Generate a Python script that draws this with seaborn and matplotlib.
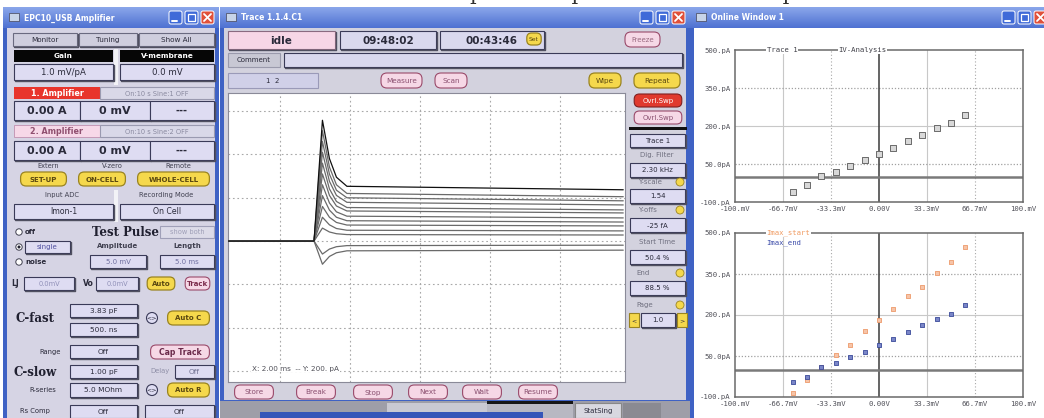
import numpy as np
import pandas as pd
import matplotlib
matplotlib.use('Agg')
import matplotlib.pyplot as plt
import matplotlib.colors as mcolors
import seaborn as sns
from matplotlib.patches import Rectangle, FancyBboxPatch, Circle

# ---------------- data ----------------
voltages_mv = [-60, -50, -40, -30, -20, -10, 0, 10, 20, 30, 40, 50, 60]
iv_trace1_pa = [-60, -31, 1, 17, 42, 66, 90, 115, 139, 163, 192, 212, 244]
imax_start_pa = [-85, -36, 9, 54, 91, 140, 181, 221, 270, 304, 353, 395, 447]
imax_end_pa = [-44, -25, 9, 24, 46, 65, 91, 114, 136, 162, 185, 204, 237]

# oscilloscope sweeps: sample times (ms) and current at each time (pA)
trace_time_ms = [-1.5, 0.96, 1.2, 1.4, 1.6, 1.9, 9.8]
trace_hold_pa = [0, 0, 0, 0, 0, 0, 0, 0, 0, 0, 0, 0, 0]
trace_peak_pa = [-107, -60, 60, 110, 160, 210, 260, 310, 360, 410, 460, 510, 558]
trace_1p4_pa = [-71, -37, 42, 75, 110, 143, 176, 211, 241, 276, 309, 342, 381]
trace_1p6_pa = [-54, -26, 34, 58, 86, 110, 135, 162, 183, 211, 235, 260, 295]
trace_1p9_pa = [-45, -21, 30, 50, 74, 94, 115, 139, 155, 179, 200, 220, 253]
trace_steady_pa = [-42, -19, 28, 47, 70, 88, 107, 130, 144, 167, 186, 205, 237]

iv_xticks = [-100, -66.7, -33.3, 0, 33.3, 66.7, 100]
iv_xticklabels = ['-100.mV', '-66.7mV', '-33.3mV', '0.00V', '33.3mV', '66.7mV', '100.mV']
iv_yticks = [-100, 50, 200, 350, 500]
iv_yticklabels = ['-100.pA', '50.0pA', '200.pA', '350.pA', '500.pA']

# ---------------- figure / canvas ----------------
sns.set_theme(style='white')
plt.rcParams['font.family'] = ['DejaVu Sans']

W, H = 1044, 418
fig = plt.figure(figsize=(W / 100, H / 100), dpi=100, facecolor='white')
canvas = fig.add_axes([0, 0, 1, 1])
canvas.axis('off')


def px_axes(x0, y0, x1, y1):
    return fig.add_axes([x0 / W, 1 - y1 / H, (x1 - x0) / W, (y1 - y0) / H])


def rect(x, y, w, h, fc, ec='none', lw=0.8, z=1):
    canvas.add_patch(Rectangle((x, y), w, h, fc=fc, ec=ec, lw=lw, zorder=z))


def gradient(x, y, w, h, top, bot, z=2):
    c0 = np.array(mcolors.to_rgb(top))
    c1 = np.array(mcolors.to_rgb(bot))
    f = np.linspace(0, 1, 24)[:, None, None]
    img = c0 * (1 - f) + c1 * f
    canvas.imshow(img, extent=(x, x + w, y + h, y), aspect='auto', zorder=z,
                  interpolation='bilinear')


def txt(x, y, s, fs=5.2, color='#2a2a3a', ha='center', weight='normal', family=None, z=5, **kw):
    d = dict(ha=ha, va='center', fontsize=fs, color=color, weight=weight, zorder=z)
    if family:
        d['family'] = family
    d.update(kw)
    canvas.text(x, y, s, **d)


def button(x, y, w, h, s, fc='#dedcf2', ec='#3a3a58', tc='#2a2a3a', fs=5.2, weight='normal',
           rounded=False, lw=0.8, shadow=True):
    if rounded:
        r = h / 2.5
        canvas.add_patch(FancyBboxPatch((x + r, y), w - 2 * r, h,
                                        boxstyle=f'round,pad=0,rounding_size={r}',
                                        fc=fc, ec=ec, lw=lw, zorder=3))
    else:
        canvas.add_patch(Rectangle((x, y), w, h, fc=fc, ec=ec, lw=lw, zorder=3))
        if shadow:
            canvas.plot([x + 1, x + w + 1, x + w + 1], [y + h + 1, y + h + 1, y + 1],
                        color='#505060', lw=1.0, zorder=3)
    if s:
        txt(x + w / 2, y + h / 2 + 0.5, s, fs=fs, color=tc, weight=weight, z=4)


def window(x0, y0, x1, y1, title, body_fc):
    rect(x0, y0, x1 - x0, y1 - y0, '#3f62c4', z=1)
    gradient(x0, y0, x1 - x0, 21, '#8aa6ea', '#4f72d2', z=2)
    rect(x0 + 4, y0 + 21, x1 - x0 - 8, y1 - y0 - 24, body_fc, z=1.5)
    rect(x0 + 6, y0 + 6, 10, 8, '#c8d4e8', ec='#445', lw=0.5, z=3)
    txt(x0 + 21, y0 + 11, title, fs=5.5, color='white', ha='left', weight='bold', z=4)
    bx = x1 - 50
    for k, fc in enumerate(['#3f6ad8', '#3f6ad8', '#e0503a']):
        canvas.add_patch(FancyBboxPatch((bx + k * 16, y0 + 4), 13, 13,
                                        boxstyle='round,pad=0,rounding_size=2',
                                        fc=fc, ec='white', lw=0.7, zorder=4))
    canvas.plot([bx + 3, bx + 8], [y0 + 14, y0 + 14], color='white', lw=1.4, zorder=5)
    rect(bx + 16 + 3, y0 + 7, 7, 7, 'none', ec='white', lw=0.9, z=5)
    canvas.plot([bx + 35, bx + 42], [y0 + 7, y0 + 14], color='white', lw=1.3, zorder=5)
    canvas.plot([bx + 35, bx + 42], [y0 + 14, y0 + 7], color='white', lw=1.3, zorder=5)


# text of the page above the screenshot: only the descenders show
canvas.text(470, 0.0, 'potential protocol and the sequence', family='DejaVu Serif',
            fontsize=15, va='baseline', ha='left', color='#303030', zorder=0.5)

# ---------------- windows ----------------
window(3, 7, 219, 430, 'EPC10_USB Amplifier', '#d6d4e4')
window(220, 7, 690, 403, 'Trace 1.1.4.C1', '#d3d2de')
window(690, 7, 1052, 430, 'Online Window 1', 'white')

# taskbar strip below middle window
rect(220, 401, 470, 17, '#9e9ea8', z=1.2)
rect(387, 403, 100, 15, '#c9c9d2', z=1.3)
rect(487, 401, 86, 17, '#b8b8c2', z=1.3)
rect(487, 401, 86, 3, '#151515', z=1.4)
button(575, 403, 46, 15, 'StatSing', fc='#d8d8e0', ec='#888', fs=5, shadow=False)
rect(623, 403, 38, 15, '#8a8a92', z=1.4)
rect(260, 412, 283, 7, '#3555b8', z=1.5)

# ---------------- left amplifier panel ----------------
button(13, 33, 64, 13, 'Monitor', fc='#cfcede', ec='#6a6a80', fs=5.2)
button(79, 33, 58, 13, 'Tuning', fc='#cfcede', ec='#6a6a80', fs=5.2)
button(139, 33, 75, 13, 'Show All', fc='#cfcede', ec='#6a6a80', fs=5.2)
rect(114, 49, 4, 36, '#f2f2f6', z=2)
rect(14, 50, 99, 12, '#060606', z=3)
txt(63, 56, 'Gain', fs=5.3, color='white', weight='bold')
rect(120, 50, 94, 12, '#060606', z=3)
txt(167, 56, 'V-membrane', fs=5.3, color='white', weight='bold')
button(14, 64, 99, 16, '1.0 mV/pA', fs=6.2)
button(120, 64, 94, 16, '0.0 mV', fs=6.2)

rect(14, 87, 86, 12, '#e8352c', z=3)
txt(57, 93, '1. Amplifier', fs=5.8, color='white', weight='bold')
button(100, 87, 114, 12, 'On:10 s Sine:1 OFF', fc='#d9d8e8', ec='#9a9ab0', tc='#8a8aa0', fs=4.8, shadow=False)
button(14, 101, 66, 19, '0.00 A', fs=8, weight='bold')
button(80, 101, 70, 19, '0 mV', fs=8, weight='bold')
button(150, 101, 64, 19, '---', fs=7, weight='bold')

rect(14, 125, 86, 12, '#f7d8e8', ec='#c090b0', lw=0.6, z=3)
txt(57, 131, '2. Amplifier', fs=5.8, color='#905070', weight='bold')
button(100, 125, 114, 12, 'On:10 s Sine:2 OFF', fc='#d9d8e8', ec='#9a9ab0', tc='#8a8aa0', fs=4.8, shadow=False)
button(14, 141, 66, 19, '0.00 A', fs=8, weight='bold')
button(80, 141, 70, 19, '0 mV', fs=8, weight='bold')
button(150, 141, 64, 19, '---', fs=7, weight='bold')

txt(48, 166, 'Extern', fs=4.8, color='#404050')
txt(112, 166, 'V-zero', fs=4.8, color='#404050')
txt(178, 166, 'Remote', fs=4.8, color='#404050')
yel = dict(fc='#f5d84c', ec='#9a8420', tc='#5a4810', rounded=True, lw=0.9)
button(15, 172, 57, 14, 'SET-UP', fs=5, weight='bold', **yel)
button(73, 172, 58, 14, 'ON-CELL', fs=5, weight='bold', **yel)
button(132, 172, 83, 14, 'WHOLE-CELL', fs=5, weight='bold', **yel)

txt(62, 195, 'Input ADC', fs=4.9, color='#404050')
txt(166, 195, 'Recording Mode', fs=4.9, color='#404050')
rect(114, 190, 4, 32, '#f2f2f6', z=2)
button(14, 204, 99, 15, 'Imon-1', fs=5.6)
button(120, 204, 94, 15, 'On Cell', fs=5.6)

for yy, lab in [(232, 'off'), (247, ''), (262, 'noise')]:
    canvas.add_patch(Circle((19, yy), 3.2, fc='white', ec='#404050', lw=0.7, zorder=3))
    if lab:
        txt(25, yy, lab, fs=5, ha='left', weight='bold')
canvas.add_patch(Circle((19, 247), 1.5, fc='#202030', ec='none', zorder=4))
button(25, 241, 45, 12, 'single', fs=5, tc='#5050a0')
txt(125, 232, 'Test Pulse', fs=8.5, weight='bold', family='DejaVu Serif', color='#202030')
button(160, 226, 54, 12, 'show both', fc='#dcdbe8', ec='#a0a0b8', tc='#a0a0b8', fs=4.8, shadow=False)
txt(118, 246, 'Amplitude', fs=5, weight='bold', color='#404050')
txt(187, 246, 'Length', fs=5, weight='bold', color='#404050')
button(90, 255, 56, 13, '5.0 mV', fs=5, tc='#7070a0')
button(160, 255, 54, 13, '5.0 ms', fs=5, tc='#7070a0')

txt(15, 284, 'LJ', fs=5.5, weight='bold')
button(24, 277, 50, 13, '0.0mV', fs=4.8, tc='#9090b8')
txt(88, 284, 'Vo', fs=5.5, weight='bold')
button(96, 277, 42, 13, '0.0mV', fs=4.8, tc='#9090b8')
button(142, 277, 38, 13, 'Auto', fs=5, weight='bold', **yel)
button(180, 277, 35, 13, 'Track', fc='#f6d8e6', ec='#9a4a6a', tc='#7a2a4a', rounded=True,
       fs=5, weight='bold')

txt(35, 318, 'C-fast', fs=8.5, weight='bold', family='DejaVu Serif', color='#202030')
button(70, 304, 67, 13, '3.83 pF', fs=5.3)
button(70, 323, 67, 13, '500. ns', fs=5.3)
canvas.add_patch(Circle((152, 318), 5.5, fc='#dedcf2', ec='#3a3a58', lw=0.8, zorder=3))
txt(152, 318, '<>', fs=4.5)
button(162, 311, 53, 14, 'Auto C', fs=5, weight='bold', **yel)

txt(50, 352, 'Range', fs=4.9)
button(70, 345, 67, 13, 'Off', fs=5.3)
button(145, 345, 70, 14, 'Cap Track', fc='#f6d8e6', ec='#9a4a6a', tc='#6a2a4a', rounded=True,
       fs=5.6, weight='bold')
txt(35, 372, 'C-slow', fs=8.5, weight='bold', family='DejaVu Serif', color='#202030')
button(70, 365, 67, 13, '1.00 pF', fs=5.3)
txt(160, 371, 'Delay', fs=4.9, color='#9090a8')
button(175, 365, 39, 13, 'Off', fs=5.3, tc='#707090')
txt(43, 390, 'R-series', fs=4.9)
button(70, 383, 67, 14, '5.0 MOhm', fs=5.3)
canvas.add_patch(Circle((152, 390), 5.5, fc='#dedcf2', ec='#3a3a58', lw=0.8, zorder=3))
txt(152, 390, '<>', fs=4.5)
button(162, 383, 53, 14, 'Auto R', fs=5, weight='bold', **yel)
txt(35, 411, 'Rs Comp', fs=4.9)
button(70, 405, 67, 13, 'Off', fs=5.3)
button(145, 405, 69, 13, 'Off', fs=5.3)

# ---------------- middle window controls ----------------
button(228, 31, 107, 18, 'idle', fc='#f7d6e6', ec='#8a6a80', fs=7.5, weight='bold')
button(340, 31, 96, 18, '09:48:02', fc='#d9d8ee', fs=7.5, weight='bold')
button(440, 31, 104, 18, '00:43:46', fc='#d9d8ee', fs=7.5, weight='bold')
button(522, 33, 24, 12, 'Set', fs=4.3, **yel)
button(619, 32, 47, 15, 'Freeze', fc='#f6d8e6', ec='#9a4a6a', tc='#9a6a80', rounded=True, fs=5)
button(228, 53, 52, 14, 'Comment', fc='#c8c8d4', ec='#9a9aac', fs=5, shadow=False)
button(284, 53, 398, 14, '', fc='#d9d8ee', ec='#3a3a58')
button(228, 73, 90, 15, '1  2', fc='#d0d0e8', ec='#9a9ab8', fs=5, shadow=False)
pink = dict(fc='#f6d8e6', ec='#9a4a6a', tc='#8a5070', rounded=True)
button(375, 73, 53, 15, 'Measure', fs=5.2, **pink)
button(429, 73, 44, 15, 'Scan', fs=5.2, **pink)
button(583, 73, 44, 15, 'Wipe', fs=5.2, **yel)
button(628, 73, 58, 15, 'Repeat', fs=5.2, **yel)

# right control column
button(629, 94, 58, 13, 'Ovrl.Swp', fc='#e03a2e', ec='#802020', tc='white', rounded=True, fs=5)
button(629, 111, 58, 13, 'Ovrl.Swp', fs=5, **pink)
rect(629, 127, 58, 2.5, '#101010', z=3)
button(630, 134, 55, 13, 'Trace 1', fs=5)
txt(657, 155, 'Dig. Filter', fs=5, color='#707080')
button(630, 163, 55, 14, '2.30 kHz', fs=5)
txt(650, 182, 'Y-scale', fs=5, color='#707080')
canvas.add_patch(Circle((680, 182), 4, fc='#f5d84c', ec='#9a8420', lw=0.6, zorder=3))
button(630, 189, 55, 14, '1.54', fs=5)
txt(648, 210, 'Y-offs', fs=5, color='#707080')
canvas.add_patch(Circle((680, 210), 4, fc='#f5d84c', ec='#9a8420', lw=0.6, zorder=3))
button(630, 218, 55, 14, '-25 fA', fs=5)
txt(657, 242, 'Start Time', fs=5, color='#707080')
button(630, 250, 55, 14, '50.4 %', fs=5)
txt(643, 273, 'End', fs=5, color='#707080')
canvas.add_patch(Circle((680, 273), 4, fc='#f5d84c', ec='#9a8420', lw=0.6, zorder=3))
button(630, 281, 55, 14, '88.5 %', fs=5)
txt(645, 305, 'Page', fs=5, color='#707080')
canvas.add_patch(Circle((680, 305), 4, fc='#f5d84c', ec='#9a8420', lw=0.6, zorder=3))
button(629, 313, 10, 14, '<', fc='#f5d84c', ec='#9a8420', fs=4.5, shadow=False)
button(641, 313, 34, 14, '1.0', fs=5)
button(677, 313, 10, 14, '>', fc='#f5d84c', ec='#9a8420', fs=4.5, shadow=False)

for xb, lab in [(229, 'Store'), (291, 'Break'), (348, 'Stop'), (403, 'Next'), (457, 'Wait'), (513, 'Resume')]:
    button(xb, 385, 50, 14, lab, fs=5.2, **pink)

# ---------------- oscilloscope plot ----------------
ax = px_axes(228, 93, 625, 382)
ax.set_facecolor('white')
rows = []
for i, v in enumerate(voltages_mv):
    vals = [trace_hold_pa[i], trace_hold_pa[i], trace_peak_pa[i], trace_1p4_pa[i],
            trace_1p6_pa[i], trace_1p9_pa[i], trace_steady_pa[i]]
    for t, y in zip(trace_time_ms, vals):
        rows.append({'t': t, 'i': y, 'sweep': v})
df = pd.DataFrame(rows)
palette = {v: ('#101010' if v == voltages_mv[-1] else '#6a6a6a') for v in voltages_mv}
sns.lineplot(data=df, x='t', y='i', hue='sweep', units='sweep', estimator=None,
             palette=palette, legend=False, linewidth=0.9, ax=ax, zorder=3)
ax.set_xlim(-1.5, 9.85)
ax.set_ylim(-651, 684)
for gx in [0, 2, 4, 6, 8]:
    ax.axvline(gx, color='#a8a8a8', lw=0.8, ls=(0, (1.5, 2.5)), zorder=1)
for gy in [-600, -400, -200, 0, 200, 400, 600]:
    ax.axhline(gy, color='#a8a8a8', lw=0.8, ls=(0, (1.5, 2.5)), zorder=1)
ax.set_xticks([])
ax.set_yticks([])
ax.set_xlabel('')
ax.set_ylabel('')
for s in ax.spines.values():
    s.set_color('#8a8a98')
    s.set_linewidth(0.8)
ax.text(0.06, 0.046, 'X: 2.00 ms  -- Y: 200. pA', transform=ax.transAxes, fontsize=5.2,
        color='#505058', ha='left', va='center', zorder=4,
        bbox=dict(fc='white', ec='none', pad=0.5))


# ---------------- IV plots ----------------
def iv_axes(y0, y1):
    a = px_axes(735, y0, 1023, y1)
    a.set_facecolor('white')
    a.set_xlim(-100, 100)
    a.set_ylim(-100, 500)
    a.set_xticks(iv_xticks)
    a.set_xticklabels(iv_xticklabels)
    a.set_yticks(iv_yticks)
    a.set_yticklabels(iv_yticklabels)
    a.tick_params(length=0, labelsize=5.2, labelcolor='#505058', pad=3)
    for lab in a.get_xticklabels() + a.get_yticklabels():
        lab.set_family('DejaVu Sans Mono')
    for s in a.spines.values():
        s.set_color('#6a6a6a')
        s.set_linewidth(1.1)
    for gx in [-66.7, 33.3]:
        a.axvline(gx, color='#c8c8c8', lw=0.8, zorder=1)
    for gx in [-33.3, 66.7]:
        a.axvline(gx, color='#a8a8a8', lw=0.8, ls=(0, (1, 2)), zorder=1)
    a.axhline(200, color='#c8c8c8', lw=0.8, zorder=1)
    for gy in [50, 350]:
        a.axhline(gy, color='#a0a0a0', lw=0.9, ls=(0, (1, 1.5)), zorder=1)
    a.axvline(0, color='#3a3a3a', lw=1.1, zorder=2)
    a.axhline(0, color='#7a7a7a', lw=1.8, zorder=2)
    a.set_xlabel('')
    a.set_ylabel('')
    return a


ax1 = iv_axes(50, 202)
sns.scatterplot(x=voltages_mv, y=iv_trace1_pa, marker='s', s=13, color='#d8d8d8',
                edgecolor='#6a6a6a', linewidth=0.7, ax=ax1, zorder=4)
ax1.text(-78, 500, 'Trace 1', fontsize=5.2, family='DejaVu Sans Mono', color='#404048',
         ha='left', va='center', bbox=dict(fc='white', ec='none', pad=0.4), zorder=5)
ax1.text(-28, 500, 'IV-Analysis', fontsize=5.2, family='DejaVu Sans Mono', color='#404048',
         ha='left', va='center', bbox=dict(fc='white', ec='none', pad=0.4), zorder=5)

ax2 = iv_axes(233, 397)
sns.scatterplot(x=voltages_mv, y=imax_start_pa, marker='s', s=11, color='#f6c4a8',
                edgecolor='#ee9a6a', linewidth=0.6, ax=ax2, zorder=4)
sns.scatterplot(x=voltages_mv, y=imax_end_pa, marker='s', s=12, color='#7a86c8',
                edgecolor='#3a4a9a', linewidth=0.6, ax=ax2, zorder=5)
ax2.text(-78, 500, 'Imax_start', fontsize=5.2, family='DejaVu Sans Mono', color='#f09a60',
         ha='left', va='center', bbox=dict(fc='white', ec='none', pad=0.4), zorder=5)
ax2.text(-78, 465, 'Imax_end', fontsize=5.2, family='DejaVu Sans Mono', color='#3a4aa8',
         ha='left', va='center', zorder=5)

canvas.set_xlim(0, W)
canvas.set_ylim(H, 0)
fig.savefig('out.png', dpi=100, facecolor='white')
